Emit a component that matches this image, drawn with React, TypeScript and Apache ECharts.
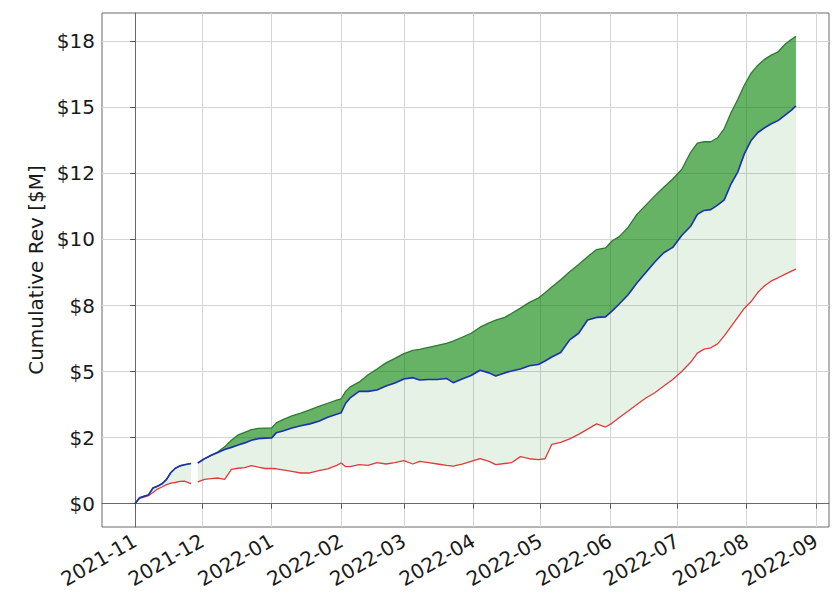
import React, { useEffect, useRef } from "react";
import * as echarts from "echarts";

const startDate = "2021-11-01";

// day offsets from startDate
const dayOffsets = [
  0, 2, 4, 6, 8, 10, 12, 14, 16, 18, 20, 22, 25, 26, 28, 31, 34, 37, 40, 43, 46, 49, 52, 55, 58, 61,
  63, 66, 70, 74, 78, 82, 86, 90, 92, 94, 96, 100, 104, 108, 112, 116, 120, 124, 127, 131, 135,
  139, 142, 146, 150, 154, 158, 161, 165, 168, 172, 176, 180, 183, 186, 190, 194, 198, 202, 206,
  210, 213, 216, 220, 224, 228, 232, 236, 240, 244, 248, 251, 254, 257, 260, 263, 266, 269, 272,
  275, 278, 281, 284, 287, 290, 293, 295,
];

// red (lower)
const lowRev: (number | null)[] = [
  0, 0.2, 0.25, 0.3, 0.42, 0.55, 0.63, 0.72, 0.78, 0.8, 0.84, 0.85, 0.76, null, 0.82, 0.92, 0.95,
  0.97, 0.92, 1.3, 1.34, 1.36, 1.44, 1.38, 1.33, 1.33, 1.32, 1.28, 1.22, 1.16, 1.16, 1.25, 1.32,
  1.45, 1.54, 1.4, 1.4, 1.48, 1.45, 1.55, 1.5, 1.55, 1.63, 1.5, 1.6, 1.55, 1.5, 1.45, 1.42, 1.5,
  1.6, 1.7, 1.6, 1.48, 1.52, 1.55, 1.78, 1.7, 1.67, 1.7, 2.24, 2.32, 2.45, 2.62, 2.82, 3.02, 2.9,
  3.05, 3.25, 3.5, 3.75, 4.0, 4.2, 4.45, 4.7, 5.0, 5.35, 5.7, 5.85, 5.9, 6.05, 6.35, 6.7, 7.05,
  7.4, 7.65, 8.0, 8.25, 8.43, 8.55, 8.68, 8.8, 8.88,
];

// blue (middle)
const midRev: (number | null)[] = [
  0, 0.22, 0.28, 0.33, 0.59, 0.66, 0.75, 0.91, 1.18, 1.34, 1.43, 1.47, 1.52, null, 1.54, 1.7, 1.83,
  1.94, 2.05, 2.13, 2.22, 2.3, 2.4, 2.46, 2.48, 2.49, 2.68, 2.75, 2.86, 2.95, 3.02, 3.12, 3.27,
  3.38, 3.44, 3.8, 4.0, 4.25, 4.25, 4.3, 4.45, 4.57, 4.72, 4.77, 4.68, 4.7, 4.7, 4.74, 4.58, 4.72,
  4.85, 5.05, 4.95, 4.83, 4.95, 5.02, 5.1, 5.22, 5.27, 5.4, 5.55, 5.72, 6.2, 6.45, 6.95, 7.05,
  7.07, 7.3, 7.55, 7.9, 8.35, 8.75, 9.15, 9.5, 9.7, 10.15, 10.5, 10.95, 11.1, 11.13, 11.3, 11.5,
  12.1, 12.55, 13.25, 13.75, 14.05, 14.23, 14.38, 14.5, 14.7, 14.9, 15.06,
];

// green (upper)
const highRev: (number | null)[] = [
  0, 0.22, 0.28, 0.33, 0.59, 0.66, 0.75, 0.91, 1.18, 1.34, 1.43, 1.47, 1.52, null, 1.54, 1.7, 1.83,
  1.96, 2.15, 2.4, 2.6, 2.7, 2.8, 2.85, 2.86, 2.87, 3.06, 3.18, 3.32, 3.43, 3.55, 3.68, 3.8, 3.92,
  3.97, 4.25, 4.42, 4.6, 4.88, 5.1, 5.33, 5.5, 5.68, 5.8, 5.84, 5.92, 5.99, 6.07, 6.15, 6.3, 6.45,
  6.68, 6.84, 6.95, 7.05, 7.2, 7.4, 7.62, 7.78, 7.98, 8.2, 8.48, 8.78, 9.05, 9.35, 9.62, 9.68,
  9.95, 10.1, 10.45, 10.95, 11.3, 11.65, 11.98, 12.29, 12.65, 13.3, 13.65, 13.7, 13.7, 13.85,
  14.2, 14.8, 15.3, 15.85, 16.3, 16.6, 16.82, 16.98, 17.1, 17.38, 17.58, 17.69,
];

const yTickValues = [0, 2.5, 5, 7.5, 10, 12.5, 15, 17.5];
const yTickLabels = ["$0", "$2", "$5", "$8", "$10", "$12", "$15", "$18"];
const xTickLabels = [
  "2021-11", "2021-12", "2022-01", "2022-02", "2022-03", "2022-04",
  "2022-05", "2022-06", "2022-07", "2022-08", "2022-09",
];
const yAxisTitle = "Cumulative Rev [$M]";

const DAY = 86400000;
const FONT = "DejaVu Sans";

// contiguous index runs where all values are present
function segmentsOf(...arrs: (number | null)[][]): number[][] {
  const segs: number[][] = [];
  let cur: number[] = [];
  for (let i = 0; i < dayOffsets.length; i++) {
    if (arrs.every((a) => a[i] != null)) cur.push(i);
    else {
      if (cur.length) segs.push(cur);
      cur = [];
    }
  }
  if (cur.length) segs.push(cur);
  return segs;
}

function bandSeries(lo: (number | null)[], hi: (number | null)[], fill: string, z: number) {
  const segs = segmentsOf(lo, hi);
  return {
    type: "custom",
    silent: true,
    z,
    clip: true,
    data: dayOffsets.map((d, i) => [d, lo[i], hi[i]]),
    encode: { x: 0, y: [1, 2] },
    renderItem: (params: any, api: any) => {
      if (params.dataIndex !== 0) return null;
      const children = segs.map((seg) => {
        const upper = seg.map((i) => api.coord([dayOffsets[i], hi[i]]));
        const lower = seg.map((i) => api.coord([dayOffsets[i], lo[i]])).reverse();
        return {
          type: "polygon",
          shape: { points: upper.concat(lower) },
          style: { fill, stroke: null },
        };
      });
      return { type: "group", children };
    },
  };
}

export default function App() {
  const ref = useRef<HTMLDivElement>(null);

  useEffect(() => {
    if (!ref.current) return;
    const chart = echarts.init(ref.current, undefined, { renderer: "svg" });

    const t0 = Date.parse(startDate + "T00:00:00Z");
    const xTickValues = xTickLabels.map((l) =>
      Math.round((Date.parse(l + "-01T00:00:00Z") - t0) / DAY)
    );

    const pair = (arr: (number | null)[]) => arr.map((v, i) => [dayOffsets[i], v]);

    // matplotlib-like 5% margins
    const first = dayOffsets[0];
    const last = dayOffsets[dayOffsets.length - 1];
    const xSpan = last - first;
    const xMin = first - 0.05 * xSpan;
    const xMax = last + 0.05 * xSpan;
    const allVals = [...lowRev, ...midRev, ...highRev].filter((v) => v != null) as number[];
    const vMin = Math.min(...allVals);
    const vMax = Math.max(...allVals);
    const ySpan = vMax - vMin;
    const yMin = vMin - 0.05 * ySpan;
    const yMax = vMax + 0.05 * ySpan;

    const lineBase = {
      type: "line" as const,
      showSymbol: false,
      symbol: "none",
      connectNulls: false,
      silent: true,
    };

    const option: any = {
      animation: false,
      backgroundColor: "#ffffff",
      textStyle: { fontFamily: FONT },
      grid: {
        left: 102,
        right: 11,
        top: 13,
        bottom: 66,
        show: true,
        borderColor: "#6a6a6a",
        borderWidth: 1,
        backgroundColor: "transparent",
      },
      xAxis: {
        type: "value",
        min: xMin,
        max: xMax,
        axisLine: { show: true, lineStyle: { color: "#6a6a6a", width: 1 } },
        axisTick: { show: true, length: 5, lineStyle: { color: "#555" }, customValues: xTickValues },
        axisLabel: {
          customValues: xTickValues,
          rotate: 30,
          margin: 12,
          fontSize: 20,
          fontFamily: FONT,
          color: "#1a1a1a",
          formatter: (v: number) => {
            const i = xTickValues.findIndex((t) => Math.abs(t - v) < 1e-6);
            return i >= 0 ? xTickLabels[i] : "";
          },
        },
        splitLine: { show: true, lineStyle: { color: "#d4d4d4", width: 1 } },
      },
      yAxis: {
        type: "value",
        min: yMin,
        max: yMax,
        name: yAxisTitle,
        nameLocation: "middle",
        nameGap: 51,
        nameTextStyle: { fontSize: 20, fontFamily: FONT, color: "#1a1a1a" },
        axisLine: { show: true, lineStyle: { color: "#6a6a6a", width: 1 } },
        axisTick: { show: true, length: 5, lineStyle: { color: "#555" }, customValues: yTickValues },
        axisLabel: {
          customValues: yTickValues,
          margin: 7,
          fontSize: 20,
          fontFamily: FONT,
          color: "#1a1a1a",
          formatter: (v: number) => {
            const i = yTickValues.findIndex((t) => Math.abs(t - v) < 1e-6);
            return i >= 0 ? yTickLabels[i] : "";
          },
        },
        splitLine: { show: true, lineStyle: { color: "#d4d4d4", width: 1 } },
      },
      series: [
        bandSeries(lowRev, midRev, "rgba(0,128,0,0.1)", 1),
        bandSeries(midRev, highRev, "rgba(0,128,0,0.6)", 1),
        {
          ...lineBase,
          name: "low",
          data: pair(lowRev),
          lineStyle: { color: "#e03a3a", width: 1.3 },
          z: 3,
        },
        {
          ...lineBase,
          name: "high",
          data: pair(highRev),
          lineStyle: { color: "#2e7a30", width: 1.3 },
          z: 3,
        },
        {
          ...lineBase,
          name: "mid",
          data: pair(midRev),
          lineStyle: { color: "#1c2fb3", width: 1.6 },
          z: 4,
        },
      ],
    };

    chart.setOption(option);
    return () => chart.dispose();
  }, []);

  return (
    <div
      ref={ref}
      style={{ position: "absolute", left: 0, top: 0, width: 840, height: 593 }}
    />
  );
}
